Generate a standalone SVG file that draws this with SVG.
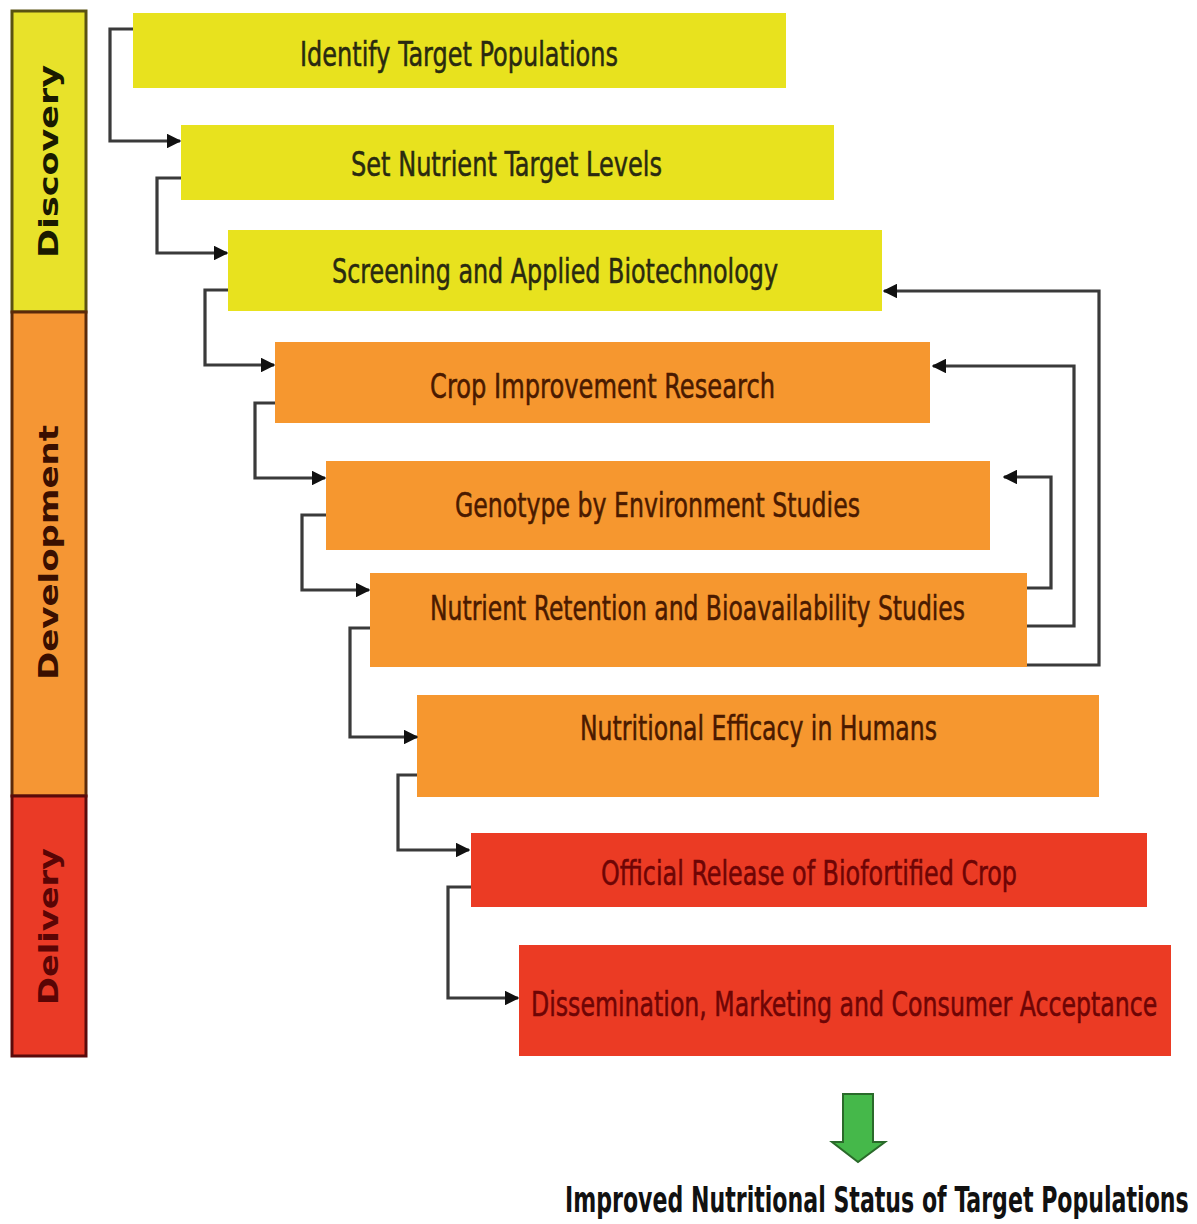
<svg xmlns="http://www.w3.org/2000/svg" width="1197" height="1224" viewBox="0 0 1197 1224">
<defs>
<marker id="ah" viewBox="0 0 10 10" refX="9" refY="5" markerWidth="4.6" markerHeight="4.6" orient="auto" markerUnits="strokeWidth">
<path d="M0,0 L10,5 L0,10 z" fill="#111"/>
</marker>
<style>
.bx{stroke:none}
.y{fill:#E8E21E}
.o{fill:#F6972F}
.r{fill:#EB3B24}
.t{font-family:"Liberation Sans Narrow","DejaVu Sans Condensed","Liberation Sans",Arial,sans-serif;font-size:34px;text-anchor:start;stroke-width:0.5}
.ty{fill:#2a2a10;stroke:#2a2a10}
.to{fill:#4a1a00;stroke:#4a1a00}
.tr{fill:#6e0505;stroke:#6e0505}
.side{font-family:"DejaVu Sans","Verdana",sans-serif;font-weight:bold;font-size:27px}
.c{fill:none;stroke:#3a3a3a;stroke-width:3.2;stroke-linejoin:miter}
</style>
</defs>
<rect width="1197" height="1224" fill="#ffffff"/>

<g id="sidebar">
<rect x="12" y="11" width="74" height="301" fill="#E8E22A" stroke="#5a5212" stroke-width="3"/>
<rect x="12" y="312" width="74" height="484" fill="#F59634" stroke="#5a2a0a" stroke-width="3"/>
<rect x="12" y="796" width="74" height="260" fill="#EA3A26" stroke="#5a0a0a" stroke-width="3"/>
<text class="side" fill="#1a1a00" transform="translate(58,258) rotate(-90)" textLength="193" lengthAdjust="spacingAndGlyphs">Discovery</text>
<text class="side" fill="#3a0f00" transform="translate(58,680) rotate(-90)" textLength="255" lengthAdjust="spacingAndGlyphs">Development</text>
<text class="side" fill="#5a0505" transform="translate(58,1005) rotate(-90)" textLength="157" lengthAdjust="spacingAndGlyphs">Delivery</text>
</g>

<g id="n1"><rect class="bx y" x="133" y="13" width="653" height="75"/><text class="t ty" x="300" y="66" textLength="318" lengthAdjust="spacingAndGlyphs">Identify Target Populations</text></g>
<g id="n2"><rect class="bx y" x="181" y="125" width="653" height="75"/><text class="t ty" x="351" y="176" textLength="311" lengthAdjust="spacingAndGlyphs">Set Nutrient Target Levels</text></g>
<g id="n3"><rect class="bx y" x="228" y="230" width="654" height="81"/><text class="t ty" x="332" y="283" textLength="446" lengthAdjust="spacingAndGlyphs">Screening and Applied Biotechnology</text></g>
<g id="n4"><rect class="bx o" x="275" y="342" width="655" height="81"/><text class="t to" x="430" y="398" textLength="345" lengthAdjust="spacingAndGlyphs">Crop Improvement Research</text></g>
<g id="n5"><rect class="bx o" x="326" y="461" width="664" height="89"/><text class="t to" x="455" y="517" textLength="405" lengthAdjust="spacingAndGlyphs">Genotype by Environment Studies</text></g>
<g id="n6"><rect class="bx o" x="370" y="573" width="657" height="94"/><text class="t to" x="430" y="620" textLength="535" lengthAdjust="spacingAndGlyphs">Nutrient Retention and Bioavailability Studies</text></g>
<g id="n7"><rect class="bx o" x="417" y="695" width="682" height="102"/><text class="t to" x="580" y="740" textLength="357" lengthAdjust="spacingAndGlyphs">Nutritional Efficacy in Humans</text></g>
<g id="n8"><rect class="bx r" x="471" y="833" width="676" height="74"/><text class="t tr" x="601" y="885" textLength="416" lengthAdjust="spacingAndGlyphs">Official Release of Biofortified Crop</text></g>
<g id="n9"><rect class="bx r" x="519" y="945" width="652" height="111"/><text class="t tr" transform="translate(531,1016) scale(0.76,1)" x="0" y="0" font-size="32" textLength="824" lengthAdjust="spacingAndGlyphs">Dissemination, Marketing and Consumer Acceptance</text></g>

<g id="connectors">
<path class="c" d="M133,29 H110 V141 H180" marker-end="url(#ah)"/>
<path class="c" d="M181,178 H157 V253 H227" marker-end="url(#ah)"/>
<path class="c" d="M228,290 H205 V365 H274" marker-end="url(#ah)"/>
<path class="c" d="M275,403 H255 V478 H325" marker-end="url(#ah)"/>
<path class="c" d="M326,515 H302 V590 H369" marker-end="url(#ah)"/>
<path class="c" d="M370,628 H350 V737 H417" marker-end="url(#ah)"/>
<path class="c" d="M417,775 H398 V850 H469" marker-end="url(#ah)"/>
<path class="c" d="M471,887 H448 V998 H518" marker-end="url(#ah)"/>
<path class="c" d="M1027,665 H1099 V291 H884" marker-end="url(#ah)"/>
<path class="c" d="M1027,626 H1074 V366 H933" marker-end="url(#ah)"/>
<path class="c" d="M1027,588 H1051 V477 H1004" marker-end="url(#ah)"/>
</g>

<g id="outcome">
<path d="M843,1094 H873 V1142 H885 L858,1162 L832,1142 H843 Z" fill="#45B84A" stroke="#2a6a2a" stroke-width="2"/>
<text transform="translate(565,1212) scale(0.66,1)" x="0" y="0" font-family="'Liberation Sans Narrow','DejaVu Sans Condensed','Liberation Sans',Arial,sans-serif" font-weight="bold" font-size="35" fill="#111" textLength="945" lengthAdjust="spacingAndGlyphs">Improved Nutritional Status of Target Populations</text>
</g>
</svg>
